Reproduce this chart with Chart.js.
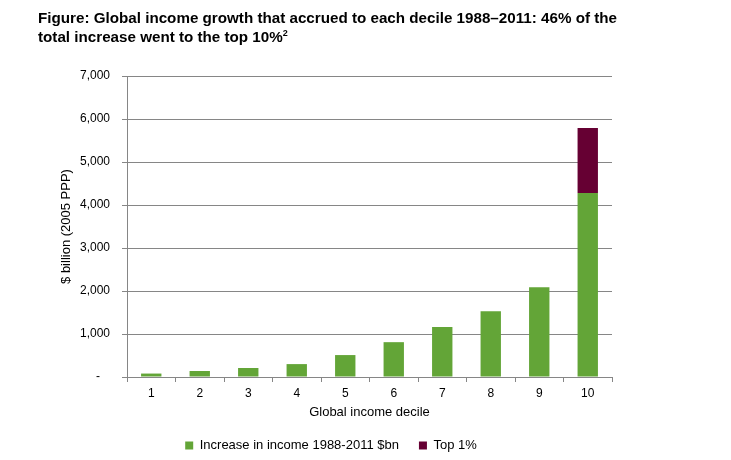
<!DOCTYPE html>
<html>
<head>
<meta charset="utf-8">
<script src="https://cdn.jsdelivr.net/npm/chart.js@4"></script>
<style>
    body { margin: 0; background: #fff; }
    #wrap { position: relative; width: 731px; height: 460px; }
    #titulo {
        position: absolute; left: 38px; top: 8px;
        font: bold 15.2px "Liberation Sans", Arial, sans-serif;
        line-height: 19px; color: #000;
    }
    #titulo sup { font-size: 9px; line-height: 0; }
</style>
</head>
<body>
<div id="wrap">
    <canvas id="grafica" width="731" height="460"></canvas>
    <div id="titulo">Figure: Global income growth that accrued to each decile 1988–2011: 46% of the<br>total increase went to the top 10%<sup>2</sup></div>
</div>
<script>
// Datos
const deciles = ['1', '2', '3', '4', '5', '6', '7', '8', '9', '10'];
const aumentoIngreso = [80, 140, 210, 300, 510, 810, 1160, 1530, 2090, 4280];
const top1 = [0, 0, 0, 0, 0, 0, 0, 0, 0, 1510];
const ticksY = [0, 1000, 2000, 3000, 4000, 5000, 6000, 7000];

const fuente = '"Liberation Sans", Arial, sans-serif';
const gris = '#868686';

// Colocar la leyenda como en el original (algo a la izquierda y abajo)
const moverLeyenda = {
    id: 'moverLeyenda',
    beforeDraw(chart) {
        const leg = chart.legend;
        if (leg) {
            const alto = leg.bottom - leg.top;
            leg.left = 0;
            leg.right = chart.width - 69;
            leg.top = 419;
            leg.bottom = 419 + alto;
        }
    }
};

new Chart(document.getElementById('grafica'), {
    type: 'bar',
    data: {
        labels: deciles,
        datasets: [{
            label: 'Increase in income 1988-2011 $bn',
            data: aumentoIngreso,
            backgroundColor: '#63A537',
            barPercentage: 0.42,
            categoryPercentage: 1
        }, {
            label: 'Top 1%',
            data: top1,
            backgroundColor: '#660033',
            barPercentage: 0.42,
            categoryPercentage: 1
        }]
    },
    options: {
        responsive: false,
        animation: false,
        layout: {
            padding: { left: 59, right: 119, top: 76, bottom: -11 }
        },
        plugins: {
            legend: {
                position: 'bottom',
                labels: {
                    boxWidth: 8,
                    boxHeight: 8,
                    padding: 20,
                    color: '#000',
                    font: { family: fuente, size: 13 }
                }
            },
            tooltip: { enabled: false }
        },
        scales: {
            x: {
                stacked: true,
                grid: {
                    offset: true,
                    drawOnChartArea: false,
                    tickLength: 5,
                    color: gris
                },
                border: { color: gris },
                ticks: {
                    padding: 4,
                    color: '#000',
                    font: { family: fuente, size: 12 }
                },
                title: {
                    display: true,
                    text: 'Global income decile',
                    color: '#000',
                    font: { family: fuente, size: 13 },
                    padding: { top: 8, bottom: 8 }
                },
                afterFit(scale) { scale.height = 51; }
            },
            y: {
                stacked: true,
                min: 0,
                max: 7000,
                afterBuildTicks(scale) {
                    scale.ticks = ticksY.map(v => ({ value: v }));
                },
                grid: {
                    color: gris,
                    tickLength: 5
                },
                border: { color: gris },
                ticks: {
                    padding: 12,
                    color: '#000',
                    font: { family: fuente, size: 12 },
                    callback: v => v === 0 ? '-   ' : v.toLocaleString('en-US')
                },
                title: {
                    display: true,
                    text: '$ billion (2005 PPP)',
                    color: '#000',
                    font: { family: fuente, size: 13 },
                    padding: 0
                },
                afterFit(scale) { scale.width = 68; }
            }
        }
    },
    plugins: [moverLeyenda]
});
</script>
</body>
</html>
